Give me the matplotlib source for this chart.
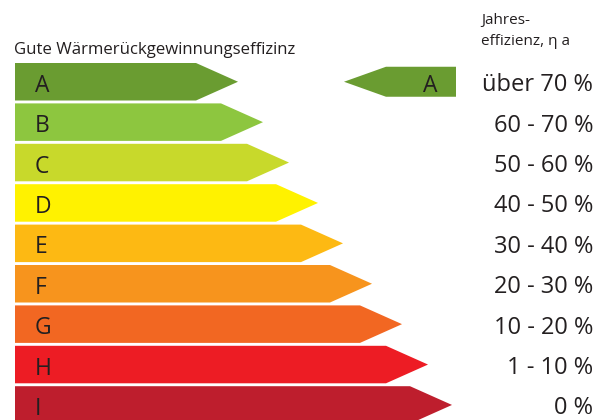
import matplotlib.pyplot as plt
from matplotlib.patches import Polygon

plt.rcParams['font.family'] = ['Open Sans', 'DejaVu Sans']

# classes, arrow tip positions (px) and colours
classes = ['A', 'B', 'C', 'D', 'E', 'F', 'G', 'H', 'I']
tips = [238, 263, 289, 318, 343, 372, 402, 428, 452]
colors = ['#6a9c31', '#8dc63f', '#c8d92b', '#fff200', '#fdb913',
          '#f7941d', '#f26722', '#ed1c24', '#be1e2d']
ranges = ['über 70 %', '60 - 70 %', '50 - 60 %', '40 - 50 %', '30 - 40 %',
          '20 - 30 %', '10 - 20 %', '1 - 10 %', '0 %']
current = 'A'

W, H = 603, 420
fig = plt.figure(figsize=(W / 100, H / 100), dpi=100)
ax = fig.add_axes([0, 0, 1, 1])
ax.set_xlim(0, W)
ax.set_ylim(H, 0)
ax.axis('off')

left = 15
top0 = 63
pitch = 40.4
bh = 37.5
head = 42
txt = '#231f20'

for i, (c, t, col, r) in enumerate(zip(classes, tips, colors, ranges)):
    y0 = top0 + i * pitch
    y1 = y0 + bh
    ym = (y0 + y1) / 2
    ax.add_patch(Polygon([(left, y0), (t - head, y0), (t, ym), (t - head, y1), (left, y1)],
                         closed=True, facecolor=col, edgecolor='none'))
    ax.text(35, ym + 10, c, fontsize=16.5, color=txt, va='baseline', ha='left')
    ax.text(593, ym + 9.5, r, fontsize=17, color=txt, va='baseline', ha='right')

# current class marker
ci = classes.index(current)
ym = top0 + ci * pitch + bh / 2
ax.add_patch(Polygon([(344, ym), (386, ym - 15), (456, ym - 15), (456, ym + 15), (386, ym + 15)],
                     closed=True, facecolor=colors[ci], edgecolor='none'))
ax.text(430, ym + 10, current, fontsize=16.5, color=txt, va='baseline', ha='center')

ax.text(14, 54, 'Gute Wärmerückgewinnungseffizinz', fontsize=12.1, color=txt,
        va='baseline', ha='left')
ax.text(481, 24, 'Jahres-', fontsize=11, color=txt, va='baseline', ha='left')
ax.text(481, 45, 'effizienz, η a', fontsize=11, color=txt, va='baseline', ha='left')

fig.savefig('out.png', dpi=100)
